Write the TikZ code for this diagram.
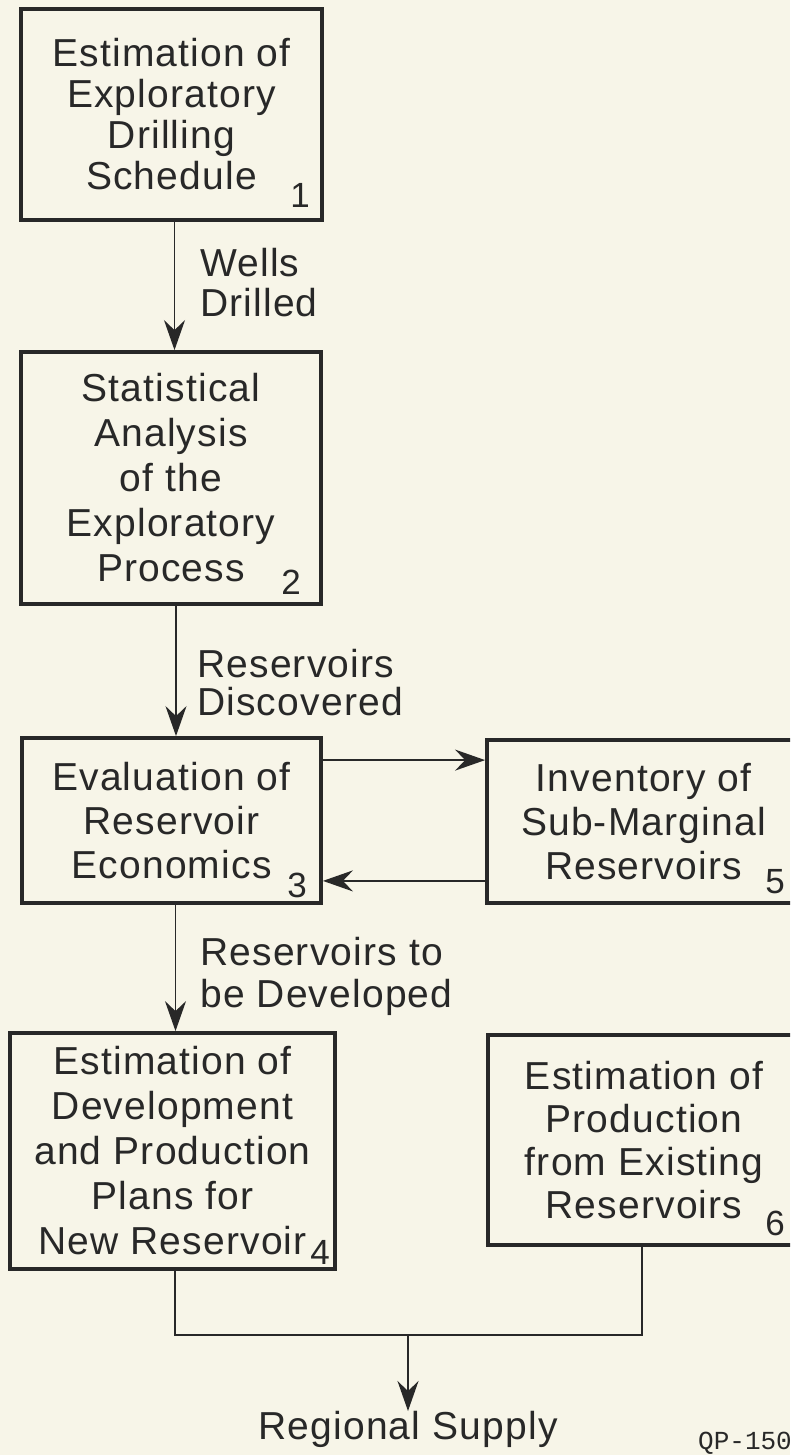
\documentclass[tikz,border=0pt]{standalone}
\usepackage{fontspec}
\setmainfont{Liberation Sans}[LetterSpace=3]
\newfontfamily\monofam{Liberation Mono}
\usetikzlibrary{arrows.meta,calc}
\definecolor{paper}{RGB}{247,245,232}
\definecolor{ink}{RGB}{40,40,40}
\tikzset{
  box/.style={draw=ink, line width=3.8pt, rectangle, inner sep=0pt, align=center, text=ink},
  conn/.style={draw=ink, line width=1.8pt},
  arr/.style={conn, -{Stealth[length=30pt,width=21pt,inset=10pt]}},
  flowlabel/.style={anchor=west, align=left, text=ink, inner sep=0pt},
  numlabel/.style={text=ink, inner sep=0pt, font=\fontsize{35}{35}\selectfont},
}
\begin{document}
\begin{tikzpicture}[x=1pt,y=-1pt]
\useasboundingbox (0,0) rectangle (790,1455);
\fill[paper] (0,0) rectangle (790,1455);
\clip (0,0) rectangle (790,1455);

% boxes
\node[box, minimum width=301pt, minimum height=211pt, font=\fontsize{39}{41}\selectfont]
  (b1) at (171.5,114.5) {Estimation of\\Exploratory\\Drilling\\Schedule};
\node[box, minimum width=300pt, minimum height=252pt, font=\fontsize{39}{45}\selectfont]
  (b2) at (171,478) {Statistical\\Analysis\\of the\\Exploratory\\Process};
\node[box, minimum width=299pt, minimum height=165pt, font=\fontsize{39}{44}\selectfont]
  (b3) at (171.5,820.5) {Evaluation of\\Reservoir\\Economics};
\node[box, minimum width=313pt, minimum height=163pt, font=\fontsize{39}{44}\selectfont]
  (b5) at (643.5,821.5) {Inventory of\\Sub-Marginal\\Reservoirs};
\node[box, minimum width=325pt, minimum height=236pt, font=\fontsize{39}{45}\selectfont]
  (b4) at (172.5,1151) {Estimation of\\Development\\and Production\\Plans for\\New Reservoir};
\node[box, minimum width=312pt, minimum height=210pt, font=\fontsize{39}{43}\selectfont]
  (b6) at (644,1140) {Estimation of\\Production\\from Existing\\Reservoirs};

% numbers
\node[numlabel] (n1) at (300,195) {1};
\node[numlabel] (n2) at (291,582) {2};
\node[numlabel] (n3) at (297,885) {3};
\node[numlabel] (n5) at (775,882) {5};
\node[numlabel] (n4) at (320,1252) {4};
\node[numlabel] (n6) at (775,1223) {6};

% flow labels
\node[flowlabel, font=\fontsize{39}{40}\selectfont] (l1) at (200,283) {Wells\\Drilled};
\node[flowlabel, font=\fontsize{39}{38}\selectfont] (l2) at (197,683) {Reservoirs\\Discovered};
\node[flowlabel, font=\fontsize{39}{42}\selectfont] (l3) at (200,976) {Reservoirs to\\be Developed};

% vertical arrows
\draw[arr] ([xshift=3pt]b1.south) -- ([xshift=3pt]b1.south |- b2.north);
\draw[arr] ([xshift=5pt]b2.south) -- ([xshift=5pt]b2.south |- b3.north);
\draw[arr] ([xshift=4pt]b3.south) -- ([xshift=4pt]b3.south |- b4.north);

% horizontal arrows between 3 and 5
\draw[arr] ([yshift=-24pt]b3.north east) -- ([yshift=-24pt]b3.north east -| b5.west);
\draw[arr] ([yshift=24pt]b5.south west) -- ([yshift=24pt]b5.south west -| b3.east);

% merge to regional supply
\coordinate (j) at (408,1335);
\node[anchor=north, inner sep=0pt, text=ink, font=\fontsize{39}{41}\selectfont] (rs) at (408,1411) {Regional Supply};
\draw[conn] ([xshift=2.5pt]b4.south) |- ([xshift=-2pt]b6.south |- j) -- ([xshift=-2pt]b6.south);
\draw[arr] (j) -- (rs.north);

\node[anchor=base west, inner sep=0pt, text=ink, font=\monofam\fontsize{26}{26}\selectfont] (qp) at (698,1449) {QP-150};
\end{tikzpicture}
\end{document}
